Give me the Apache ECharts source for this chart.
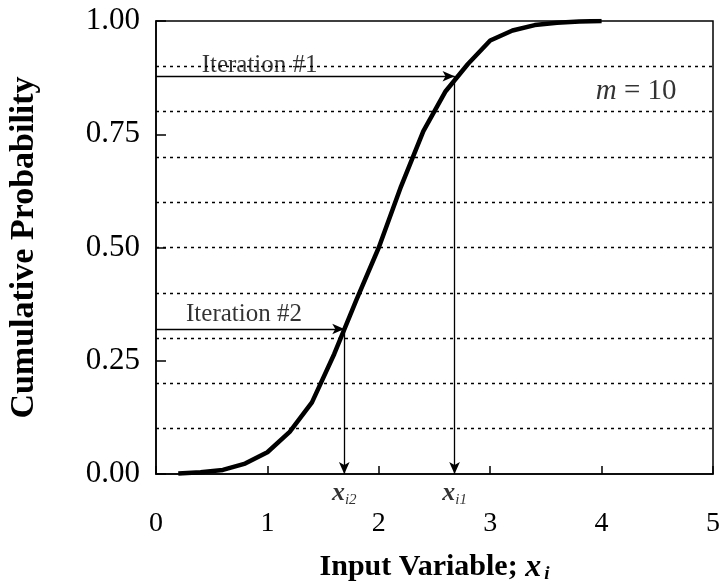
<!DOCTYPE html>
<html><head><meta charset="utf-8">
<script src="https://cdn.jsdelivr.net/npm/echarts@6/dist/echarts.min.js"></script>
<style>html,body{margin:0;padding:0;background:#fff}#c{width:719px;height:585px}</style>
</head><body><div id="c"></div>
<script>
// ---- data ----
const xValues   = [0.2, 0.4, 0.6, 0.8, 1.0, 1.2, 1.4, 1.6, 1.8, 2.0, 2.2, 2.4, 2.6, 2.8, 3.0, 3.2, 3.4, 3.6, 3.8, 4.0];
const cumProb   = [0.001, 0.004, 0.009, 0.023, 0.048, 0.093, 0.158, 0.265, 0.385, 0.50, 0.635, 0.757, 0.845, 0.905, 0.957, 0.979, 0.991, 0.996, 0.999, 1.0];
const xTickLabels = ['0', '1', '2', '3', '4', '5'];
const yTickLabels = ['0.00', '0.25', '0.50', '0.75', '1.00'];
const gridLevels  = [0.1, 0.2, 0.3, 0.4, 0.5, 0.6, 0.7, 0.8, 0.9]; // m = 10 strata
const iterNames = ['Iteration #1', 'Iteration #2'];
const iterProb  = [0.878, 0.32];
const iterX     = [2.68, 1.69];
const iterSub   = ['i1', 'i2'];

const FONT = 'Liberation Serif';
const chart = echarts.init(document.getElementById('c'));

const curve = xValues.map((x, i) => [x, cumProb[i]]);

const arrowLines = [];
iterProb.forEach((p, i) => {
  arrowLines.push([{coord: [0, p]}, {coord: [iterX[i], p]}]);
  arrowLines.push([{coord: [iterX[i], p]}, {coord: [iterX[i], 0]}]);
});

const subLabels = iterX.map((x, i) => ({
  value: [x, 0],
  label: {
    show: true, position: 'bottom', distance: 4, color: '#000',
    formatter: '{x|x}{s|' + iterSub[i] + '}',
    rich: {
      x: {fontFamily: FONT, fontStyle: 'italic', fontWeight: 'bold', fontSize: 26, color: '#000'},
      s: {fontFamily: FONT, fontStyle: 'italic', fontSize: 15, color: '#000', verticalAlign: 'bottom', padding: [15, 0, 0, 0]}
    }
  }
}));

const lbl = {show: true, position: 'inside', color: '#000', textBorderWidth: 0, fontFamily: FONT, fontSize: 25};
const textLabels = [
  {value: [0.93, 0.903], label: Object.assign({}, lbl, {formatter: iterNames[0]})},
  {value: [0.79, 0.353], label: Object.assign({}, lbl, {formatter: iterNames[1]})},
  {value: [4.31, 0.845], label: Object.assign({}, lbl, {fontSize: 29, formatter: '{i|m} = 10',
    rich: {i: {fontFamily: FONT, fontStyle: 'italic', fontSize: 29, color: '#000'}}})}
];

chart.setOption({
  animation: false,
  backgroundColor: '#fff',
  grid: {left: 156, right: 6, top: 21, bottom: 111, outerBoundsMode: 'none', containLabel: false,
         show: true, borderColor: '#000', borderWidth: 1.5, backgroundColor: 'transparent'},
  xAxis: {
    type: 'value', min: 0, max: 5, interval: 1,
    axisLine: {show: true, lineStyle: {color: '#000', width: 1.5}},
    axisTick: {show: true, inside: true, length: 8, lineStyle: {color: '#000', width: 1.5}},
    axisLabel: {margin: 36, fontFamily: FONT, fontSize: 28, color: '#000', formatter: v => xTickLabels[Math.round(v)]},
    splitLine: {show: false},
    name: '{b|Input Variable; }{x|x}{s|i}',
    nameLocation: 'middle', nameGap: 77,
    nameTextStyle: {
      rich: {
        b: {fontFamily: FONT, fontWeight: 'bold', fontSize: 30, color: '#000'},
        x: {fontFamily: FONT, fontWeight: 'bold', fontStyle: 'italic', fontSize: 32, color: '#000'},
        s: {fontFamily: FONT, fontWeight: 'bold', fontStyle: 'italic', fontSize: 19, color: '#000', verticalAlign: 'bottom', padding: [14, 0, 0, 3]}
      }
    }
  },
  yAxis: {
    type: 'value', min: 0, max: 1, interval: 0.25,
    axisLine: {show: true, lineStyle: {color: '#000', width: 1.5}},
    axisTick: {show: true, inside: true, length: 10, lineStyle: {color: '#000', width: 1.5}},
    axisLabel: {margin: 16, fontFamily: FONT, fontSize: 31, color: '#000', formatter: v => yTickLabels[Math.round(v / 0.25)]},
    splitLine: {show: false},
    name: 'Cumulative Probability',
    nameLocation: 'middle', nameGap: 115,
    nameTextStyle: {fontFamily: FONT, fontWeight: 'bold', fontSize: 34, color: '#000'}
  },
  series: [
    {
      type: 'line', data: [], silent: true,
      markLine: {
        silent: true, symbol: ['none', 'none'], label: {show: false},
        lineStyle: {color: '#000', type: [3, 4], width: 1.3},
        data: gridLevels.map(v => ({yAxis: v}))
      }
    },
    {
      type: 'line', data: [], silent: true,
      markLine: {
        silent: true, symbol: ['none', 'arrow'], symbolSize: [8, 12], label: {show: false},
        lineStyle: {color: '#000', type: 'solid', width: 1.3},
        data: arrowLines
      }
    },
    {
      type: 'line', data: curve, symbol: 'none', smooth: false,
      lineStyle: {color: '#000', width: 4.5}, z: 5
    },
    {
      type: 'scatter', data: subLabels, symbolSize: 0, silent: true
    },
    {
      type: 'scatter', data: textLabels, symbolSize: 0, silent: true
    }
  ]
});
</script></body></html>
